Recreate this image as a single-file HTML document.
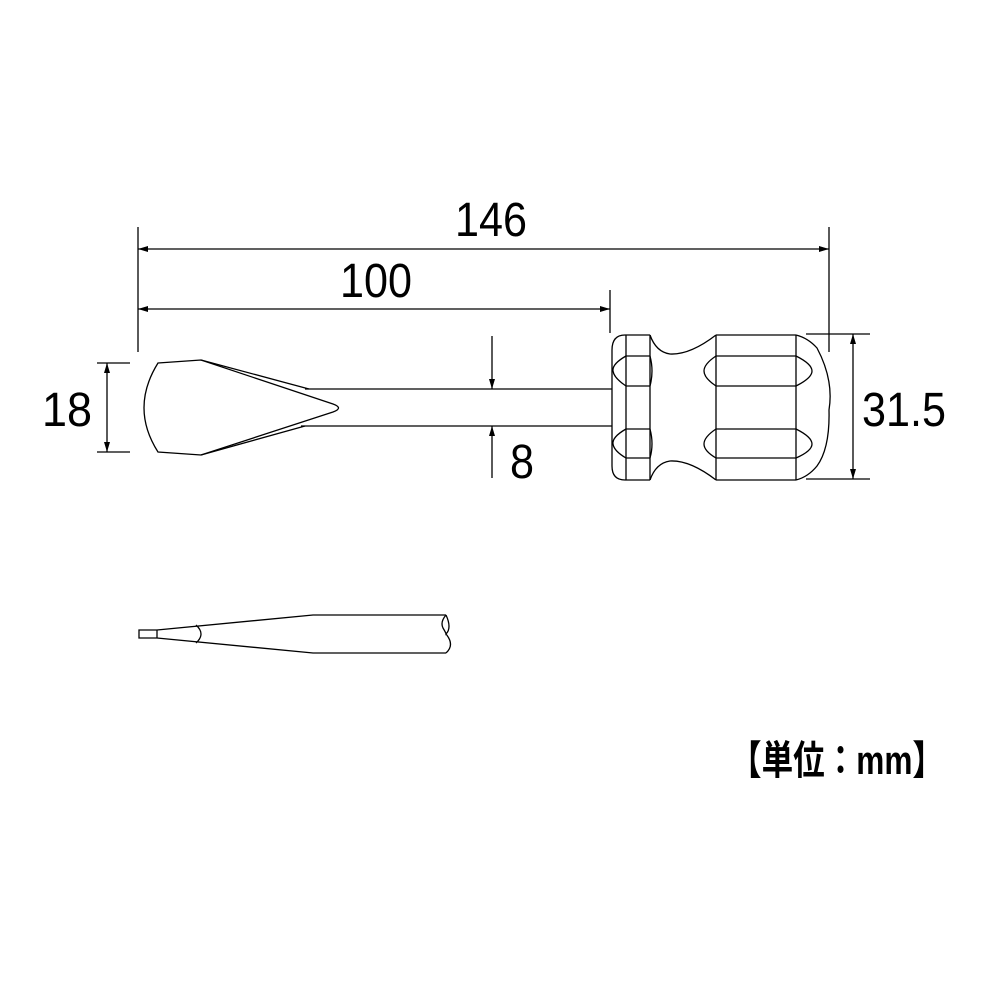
<!DOCTYPE html>
<html><head><meta charset="utf-8"><style>
html,body{margin:0;padding:0;background:#fff;}
svg{display:block;}
text{font-family:"Liberation Sans",sans-serif;fill:#000;}
</style></head><body>
<svg width="1001" height="1001" viewBox="0 0 1001 1001" xmlns="http://www.w3.org/2000/svg">
<defs>
<marker id="a" viewBox="0 0 10 6" refX="10" refY="3" markerWidth="10" markerHeight="6" markerUnits="userSpaceOnUse" orient="auto-start-reverse"><path d="M0,0 L10,3 L0,6z" fill="#000"/></marker>
</defs>
<g stroke="#000" stroke-width="1.3" fill="none">
<line x1="138" y1="227" x2="138" y2="352"/>
<line x1="829" y1="227" x2="829" y2="352"/>
<line x1="610" y1="290" x2="610" y2="333"/>
<line x1="138" y1="249" x2="829" y2="249" marker-start="url(#a)" marker-end="url(#a)"/>
<line x1="138" y1="309" x2="610" y2="309" marker-start="url(#a)" marker-end="url(#a)"/>
<line x1="97" y1="363" x2="130" y2="363"/>
<line x1="97" y1="452" x2="130" y2="452"/>
<line x1="107" y1="363" x2="107" y2="452" marker-start="url(#a)" marker-end="url(#a)"/>
<line x1="806" y1="334" x2="870" y2="334"/>
<line x1="806" y1="479" x2="870" y2="479"/>
<line x1="853" y1="334" x2="853" y2="479" marker-start="url(#a)" marker-end="url(#a)"/>
<line x1="492" y1="336" x2="492" y2="389" marker-end="url(#a)"/>
<line x1="492" y1="478" x2="492" y2="426" marker-end="url(#a)"/>
<path d="M158,363 L201,360 L333,404 Q344,408 333,412 L201,455 L158,452 Q130,408 158,363Z"/>
<path d="M201,360 L309,389 M201,455 L305,426"/>
<line x1="305" y1="389" x2="612" y2="389"/>
<line x1="301" y1="426" x2="612" y2="426"/>
<path d="M650,335 L625,335 Q612,335 612,350 L612,466 Q612,480 625,480 L650,480"/>
<line x1="626" y1="335" x2="626" y2="480"/>
<path d="M650,335 Q656,352 670,354 Q690,355 716,335"/>
<path d="M650,480 Q656,463 670,461 Q690,460 716,480"/>
<line x1="650" y1="335" x2="650" y2="480"/>
<line x1="716" y1="335" x2="716" y2="480"/>
<line x1="796" y1="335" x2="796" y2="480"/>
<line x1="716" y1="335" x2="796" y2="335"/>
<line x1="716" y1="480" x2="796" y2="480"/>
<path d="M796,335 Q808,338 817,348 Q834,380 829,410 Q830,448 817,466 Q808,477 796,480"/>
<path d="M626,356 L650,356 M626,386 L650,386 M626,429 L650,429 M626,458 L650,458"/>
<path d="M626,356 Q612,364 613,371 Q614,378 626,386"/>
<path d="M650,356 Q654,371 650,386"/>
<path d="M626,429 Q612,437 613,444 Q614,451 626,458"/>
<path d="M650,429 Q654,444 650,458"/>
<path d="M716,356 L796,356 M716,386 L796,386 M716,429 L796,429 M716,458 L796,458"/>
<path d="M716,356 Q704,364 704,371 Q704,378 716,386"/>
<path d="M796,356 Q812,364 812,371 Q812,378 796,386"/>
<path d="M716,429 Q704,437 704,444 Q704,451 716,458"/>
<path d="M796,429 Q812,437 812,444 Q812,451 796,458"/>
<path d="M157,630 L139,630 L139,638 L157,638"/>
<line x1="157" y1="630" x2="157" y2="638"/>
<path d="M157,630 L313,615 L446,615"/>
<path d="M157,638 L313,653 L446,653"/>
<path d="M196,625 Q206,634 196,643"/>
<path d="M446,615 Q440,622 443,628 Q446,633 446,634 Q452,628 446,615 M446,634 Q455,645 446,653"/>
</g>
<text x="455" y="236" font-size="48" textLength="72" lengthAdjust="spacingAndGlyphs">146</text>
<text x="340" y="297" font-size="48" textLength="72" lengthAdjust="spacingAndGlyphs">100</text>
<text x="42" y="426" font-size="48" textLength="50" lengthAdjust="spacingAndGlyphs">18</text>
<text x="510" y="478" font-size="48" textLength="24" lengthAdjust="spacingAndGlyphs">8</text>
<text x="862" y="426" font-size="48" textLength="84" lengthAdjust="spacingAndGlyphs">31.5</text>
<text x="730" y="774" font-size="40" font-weight="bold" style="font-family:'Liberation Sans','Noto Sans CJK JP',sans-serif" textLength="214" lengthAdjust="spacingAndGlyphs">【単位：mm】</text>
</svg>
</body></html>
